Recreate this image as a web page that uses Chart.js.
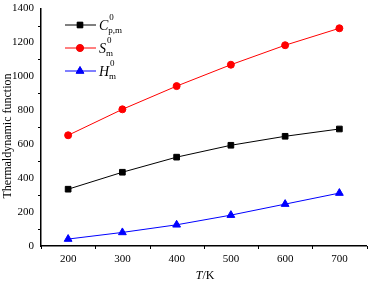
<!DOCTYPE html>
<html>
<head>
<meta charset="utf-8">
<script src="https://cdn.jsdelivr.net/npm/chart.js@4/dist/chart.umd.min.js"></script>
<style>
  html, body { margin: 0; padding: 0; background: #fff; }
  #wrap { width: 372px; height: 282px; }
</style>
</head>
<body>
<div id="wrap"><canvas id="chart" width="372" height="282"></canvas></div>
<script>
const temps = [200, 300, 400, 500, 600, 700];
const cpValues = [335, 435, 524, 594, 647, 690];
const sValues = [653, 806, 943, 1069, 1184, 1284];
const hValues = [41, 80, 125, 182, 247, 312];

const serif = "'Liberation Serif', 'DejaVu Serif', serif";

const toPoints = vals => temps.map((t, i) => ({x: t, y: vals[i]}));

// legend drawn by hand so the sub/superscripts can be shown
const legendItems = [
    {main: 'C', sup: '0', sub: 'p,m', color: '#000000', style: 'rect', r: 4},
    {main: 'S', sup: '0', sub: 'm', color: '#ff0000', style: 'circle', r: 3.5},
    {main: 'H', sup: '0', sub: 'm', color: '#0000ff', style: 'triangle', r: 4.5}
];

const legendPlugin = {
    id: 'mathLegend',
    afterDraw(chart) {
        const ctx = chart.ctx;
        const rows = [25, 48, 71];
        ctx.save();
        legendItems.forEach((item, i) => {
            const y = rows[i];
            ctx.strokeStyle = item.color;
            ctx.lineWidth = 1;
            ctx.beginPath();
            ctx.moveTo(65, y);
            ctx.lineTo(96, y);
            ctx.stroke();
            Chart.helpers.drawPoint(ctx, {pointStyle: item.style, radius: item.r, borderWidth: 1}, 80, y);
            ctx.fillStyle = item.color;
            ctx.fill();
            ctx.fillStyle = '#000';
            ctx.textBaseline = 'middle';
            ctx.textAlign = 'left';
            ctx.font = 'italic 14px ' + serif;
            ctx.fillText(item.main, 99, y + 1);
            const w = ctx.measureText(item.main).width;
            ctx.font = '9px ' + serif;
            ctx.fillText(item.sup, 99 + w + 1, y - 7);
            ctx.fillText(item.sub, 99 + w, y + 6);
        });
        ctx.restore();
    }
};

// short minor ticks between the labelled ones
const minorTicks = {
    id: 'minorTicks',
    afterDraw(chart) {
        const ctx = chart.ctx;
        const xs = chart.scales.x, ys = chart.scales.y;
        ctx.save();
        ctx.strokeStyle = '#000';
        ctx.lineWidth = 1;
        ctx.beginPath();
        for (let v = 150; v <= 750; v += 100) {
            const px = Math.round(xs.getPixelForValue(v)) + 0.5;
            ctx.moveTo(px, ys.bottom);
            ctx.lineTo(px, ys.bottom + 3);
        }
        for (let v = 100; v <= 1300; v += 200) {
            const py = Math.round(ys.getPixelForValue(v)) + 0.5;
            ctx.moveTo(xs.left, py);
            ctx.lineTo(xs.left - 3, py);
        }
        ctx.stroke();
        ctx.restore();
    }
};

const axisTitles = {
    id: 'axisTitles',
    afterDraw(chart) {
        const ctx = chart.ctx;
        const xs = chart.scales.x;
        const cx = (xs.left + xs.right) / 2 - 8;
        ctx.save();
        ctx.fillStyle = '#000';
        ctx.textBaseline = 'middle';
        ctx.textAlign = 'left';
        ctx.font = 'italic 12px ' + serif;
        const wT = ctx.measureText('T').width;
        ctx.fillText('T', cx, 276);
        ctx.font = '12px ' + serif;
        ctx.fillText('/K', cx + wT, 276);

        ctx.translate(8, 136);
        ctx.rotate(-Math.PI / 2);
        ctx.textAlign = 'center';
        ctx.fillText('Thermaldynamic function', 0, 0);
        ctx.restore();
    }
};

const dataset = (label, vals, color, style, r) => ({
    label: label,
    data: toPoints(vals),
    borderColor: color,
    backgroundColor: color,
    borderWidth: 1,
    pointStyle: style,
    pointRadius: r,
    pointBorderWidth: 1,
    tension: 0
});

new Chart(document.getElementById('chart'), {
    type: 'line',
    data: {
        datasets: [
            dataset('Cp', cpValues, '#000000', 'rect', 4),
            dataset('S', sValues, '#ff0000', 'circle', 3.5),
            dataset('H', hValues, '#0000ff', 'triangle', 4.5)
        ]
    },
    options: {
        responsive: false,
        animation: false,
        layout: {padding: {top: 8, right: 5, left: 0, bottom: 0}},
        plugins: {legend: {display: false}, tooltip: {enabled: false}},
        scales: {
            x: {
                type: 'linear',
                min: 150,
                max: 750,
                afterBuildTicks: scale => {
                    scale.ticks = temps.map(v => ({value: v}));
                },
                afterFit: scale => { scale.height = 36; },
                grid: {display: false, drawTicks: true, tickLength: 5, tickColor: '#000'},
                border: {display: true, color: '#000', width: 1.5},
                ticks: {
                    color: '#000',
                    font: {family: serif, size: 11},
                    padding: 2,
                    maxRotation: 0,
                    callback: v => String(v)
                }
            },
            y: {
                min: 0,
                max: 1400,
                afterFit: scale => { scale.width = 41; },
                grid: {display: false, drawTicks: true, tickLength: 5, tickColor: '#000'},
                border: {display: true, color: '#000', width: 1.5},
                ticks: {
                    stepSize: 200,
                    color: '#000',
                    font: {family: serif, size: 11},
                    padding: 2,
                    callback: v => String(v)
                }
            }
        }
    },
    plugins: [legendPlugin, minorTicks, axisTitles]
});
</script>
</body>
</html>
